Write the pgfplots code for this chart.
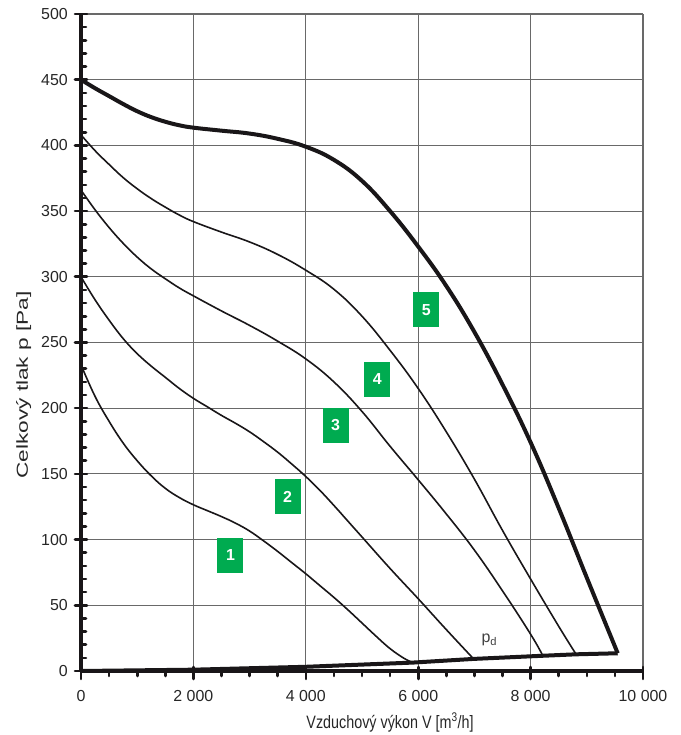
\documentclass[border=0pt]{standalone}
\usepackage{fontspec}
\setmainfont{Liberation Sans}
\usepackage{graphicx}
\usepackage{pgfplots}
\pgfplotsset{compat=1.18}
\definecolor{boxgreen}{RGB}{0,171,80}
\definecolor{gridgray}{RGB}{105,105,105}
\definecolor{curveblack}{RGB}{25,22,24}
\begin{document}
\begin{tikzpicture}
\begin{axis}[
  scale only axis, width=562bp, height=657bp,
  xmin=0, xmax=10000, ymin=0, ymax=500,
  scaled x ticks=false, scaled y ticks=false,
  axis lines=left,
  axis line style={-, line width=4.5bp, color=curveblack},
  xtick={0,2000,4000,6000,8000,10000},
  xticklabels={0,{2 000},{4 000},{6 000},{8 000},{10 000}},
  ytick={0,50,100,150,200,250,300,350,400,450,500},
  yticklabels={0,50,100,150,200,250,300,350,400,450,500},
  minor x tick num=3, minor y tick num=4,
  tick align=inside,
  major tick length=12bp, minor tick length=5bp,
  every tick/.style={curveblack, line width=2.6bp, line cap=round},
  major y tick style={xshift=-6bp},
  major x tick style={yshift=-8bp},
  minor x tick style={yshift=-5bp},
  grid=major,
  major grid style={color=gridgray, line width=1.1bp, line cap=butt},
  tick label style={font=\fontsize{16}{18}\selectfont, text=black!85},
  yticklabel style={inner sep=0pt, anchor=east, xshift=-13bp},
  xticklabel style={inner sep=0pt, anchor=north, yshift=-19.5bp},
  clip=false,
]
\coordinate (SW) at (rel axis cs:0,0);
\coordinate (NE) at (rel axis cs:1,1);
% curve 1
\addplot[curveblack, line width=1.6bp, smooth, tension=0.7] coordinates {
(0,233) (250,209) (500,190) (750,173.5) (1000,160) (1250,148.5) (1500,139) (1750,132)
(2000,126.5) (2250,122) (2500,117.5) (2750,112.5) (3000,106.5) (3250,99) (3500,91)
(3750,82.5) (4000,74) (4250,65) (4500,56) (4750,46.5) (5000,36.5) (5250,26.5)
(5500,17) (5750,9.6) (5903,6.4)};
% curve 2
\addplot[curveblack, line width=1.6bp, smooth, tension=0.7] coordinates {
(0,300) (250,282.5) (500,267) (750,253) (1000,241.5) (1250,232) (1500,223.5) (1750,215)
(2000,207.5) (2250,201) (2500,194.5) (2750,188.5) (3000,182) (3250,174.5) (3500,166.5)
(3750,157.5) (4000,148) (4250,137.5) (4500,126) (4750,114) (5000,102) (5500,78)
(6000,55) (6500,31.5) (6986,9.2)};
% curve 3
\addplot[curveblack, line width=1.6bp, smooth, tension=0.7] coordinates {
(0,366) (250,351) (500,337.5) (750,325.5) (1000,315) (1250,306) (1500,298.5) (1750,291.5)
(2000,285.5) (2500,274) (3000,263) (3500,251) (4000,237.5) (4500,220) (5000,197.5)
(5500,171) (6000,145.5) (6500,119.5) (7000,92) (7500,61) (8000,28) (8218,11.6)};
% curve 4
\addplot[curveblack, line width=1.6bp, smooth, tension=0.7] coordinates {
(0,408) (250,396) (500,385.5) (750,375.5) (1000,367) (1250,359.5) (1500,353) (1750,347)
(2000,342) (2500,334) (3000,326.5) (3500,317) (4000,305) (4500,290.5) (5000,270)
(5500,244) (6000,215) (6500,182) (7000,146) (7500,107) (8000,70) (8500,34) (8810,12.7)};
% curve 5 (thick)
\addplot[curveblack, line width=4bp, smooth, tension=0.7] coordinates {
(0,450) (250,443.5) (500,437.5) (750,431.5) (1000,426) (1250,421.5) (1500,418) (1750,415.3)
(2000,413.5) (2500,411.2) (3000,409) (3500,405) (4000,399) (4500,389) (5000,373)
(5500,350) (6000,323) (6500,293) (7000,258) (7500,218) (8000,174) (8500,124)
(9000,71) (9550,13.5)};
% dynamic pressure line
\addplot[curveblack, line width=4bp] coordinates {
(0,0) (2000,1) (4000,3.2) (5903,6.4) (6986,9.2) (8218,11.6) (8810,12.7) (9550,13.5)};
% labels
\tikzset{numbox/.style={fill=boxgreen, text=white, font=\bfseries\fontsize{16}{16}\selectfont,
  minimum width=26bp, minimum height=35bp, inner sep=0pt}}
\node[numbox] at (axis cs:2660,88) {1};
\node[numbox] at (axis cs:3675,132.6) {2};
\node[numbox] at (axis cs:4530,187) {3};
\node[numbox] at (axis cs:5272,222) {4};
\node[numbox] at (axis cs:6143,275) {5};
\node[text=black!75, font=\fontsize{16}{18}\selectfont] at (axis cs:7265,23.6) {p\textsubscript{d}};
\end{axis}
\node[anchor=base, text=black!85] at ([xshift=309bp, yshift=-57bp]SW)
  {\scalebox{0.8}[1]{\fontsize{18}{20}\selectfont Vzduchový výkon V [m\textsuperscript{3}/h]}};
\node[anchor=base, rotate=90, text=black!85] at ([xshift=-53bp, yshift=286bp]SW)
  {\scalebox{1.42}[1]{\fontsize{16}{18}\selectfont Celkový tlak p [Pa]}};
\pgfresetboundingbox
\path ([xshift=-81bp,yshift=-64bp]SW) rectangle ([xshift=38bp,yshift=14bp]NE);
\end{tikzpicture}
\end{document}
